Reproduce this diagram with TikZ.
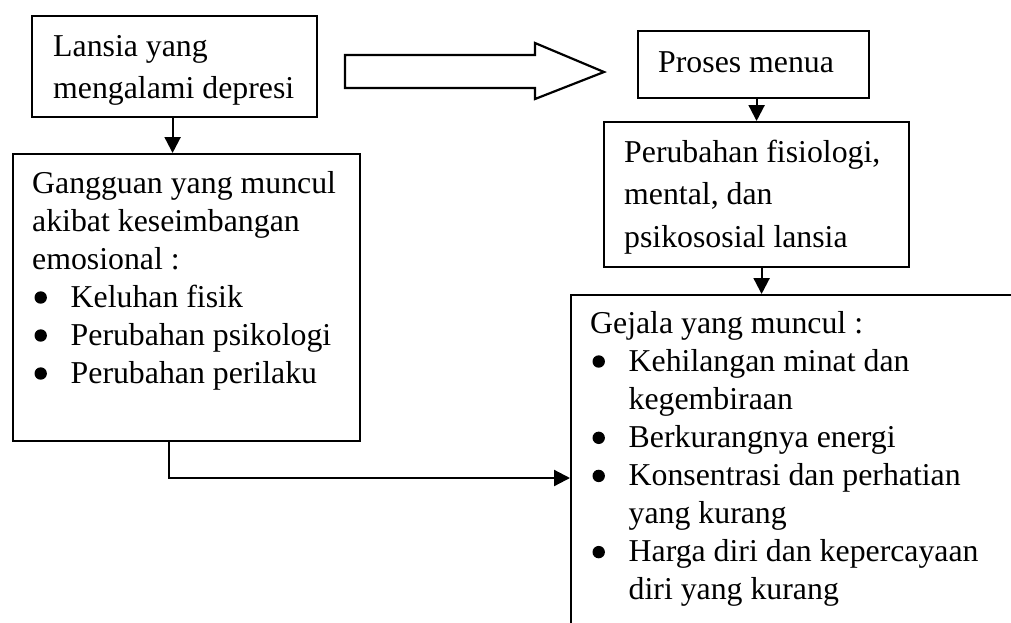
\documentclass[tikz,border=0pt]{standalone}
\usepackage{fontspec}
\setmainfont{Liberation Serif}
\usetikzlibrary{arrows.meta}
\tikzset{
  boxline/.style={draw, line width=2.2pt, rectangle, inner sep=0pt, anchor=north west},
  txt/.style={anchor=base west, inner sep=0pt, font=\fontsize{31.8}{38}\selectfont},
  conn/.style={line width=2.2pt, -{Triangle[length=16pt,width=16pt]}},
  hollow/.style={draw, line width=2.2pt, line join=miter},
  bulletdot/.style={fill=black},
}
\newcommand\Lines[2]{\vtop{\baselineskip=#1\lineskiplimit=-100pt\lineskip=0pt\relax #2}}
\newcommand\Bul[1]{\hbox{\hskip38.5pt #1}}
\newcommand\Ind[1]{\hbox{\hskip38.5pt #1}}
\begin{document}
\begin{tikzpicture}[x=1pt,y=-1pt]
\useasboundingbox (0,0) rectangle (1011,622);
\clip (0,0) rectangle (1011,622);
% boxes
\node[boxline, minimum width=285pt, minimum height=101pt] (b1) at (31,15) {};
\node[boxline, minimum width=347pt, minimum height=287pt] (b2) at (12,153) {};
\node[boxline, minimum width=231pt, minimum height=67pt] (b3) at (637,30) {};
\node[boxline, minimum width=305pt, minimum height=145pt] (b4) at (603,121) {};
\node[boxline, minimum width=480pt, minimum height=360pt] (b5) at (570,294) {};
% texts
\node[txt] (t1) at (53,56) {\Lines{42pt}{\hbox{Lansia yang}\hbox{mengalami depresi}}};
\node[txt] (t3) at (658,72) {Proses menua};
\node[txt] (t4) at (624,162) {\Lines{42.5pt}{\hbox{Perubahan fisiologi,}\hbox{mental, dan}\hbox{psikososial lansia}}};
\node[txt] (t2) at (32,193) {\Lines{38pt}{\hbox{Gangguan yang muncul}\hbox{akibat keseimbangan}\hbox{emosional :}\Bul{Keluhan fisik}\Bul{Perubahan psikologi}\Bul{Perubahan perilaku}}};
\node[txt] (t5) at (590,333) {\Lines{38.1pt}{\hbox{Gejala yang muncul :}\Bul{Kehilangan minat dan}\Ind{kegembiraan}\Bul{Berkurangnya energi}\Bul{Konsentrasi dan perhatian}\Ind{yang kurang}\Bul{Harga diri dan kepercayaan}\Ind{diri yang kurang}}};
% bullets
\foreach \yy in {297.5,335.5,373.5} \fill[bulletdot] (40.7,\yy) circle (6.2pt);
\foreach \yy in {361.5,437.8,475.9,552.1} \fill[bulletdot] (598.7,\yy) circle (6.2pt);
% hollow block arrow
\draw[hollow] (345,55) -- (535,55) -- (535,43) -- (604,72) -- (535,99) -- (535,88) -- (345,88) -- cycle;
% connectors
\draw[conn] ([xshift=-2pt]b1.south) -- ([xshift=-2pt]b1.south |- b2.north);
\draw[conn] ([xshift=3pt]b3.south) -- ([xshift=3pt]b3.south |- b4.north);
\draw[conn] ([xshift=5pt]b4.south) -- ([xshift=5pt]b4.south |- b5.north);
\coordinate (c1) at (169,478);
\draw[conn] (b2.south -| c1) -- (c1) -- (c1 -| b5.west);
\end{tikzpicture}
\end{document}
